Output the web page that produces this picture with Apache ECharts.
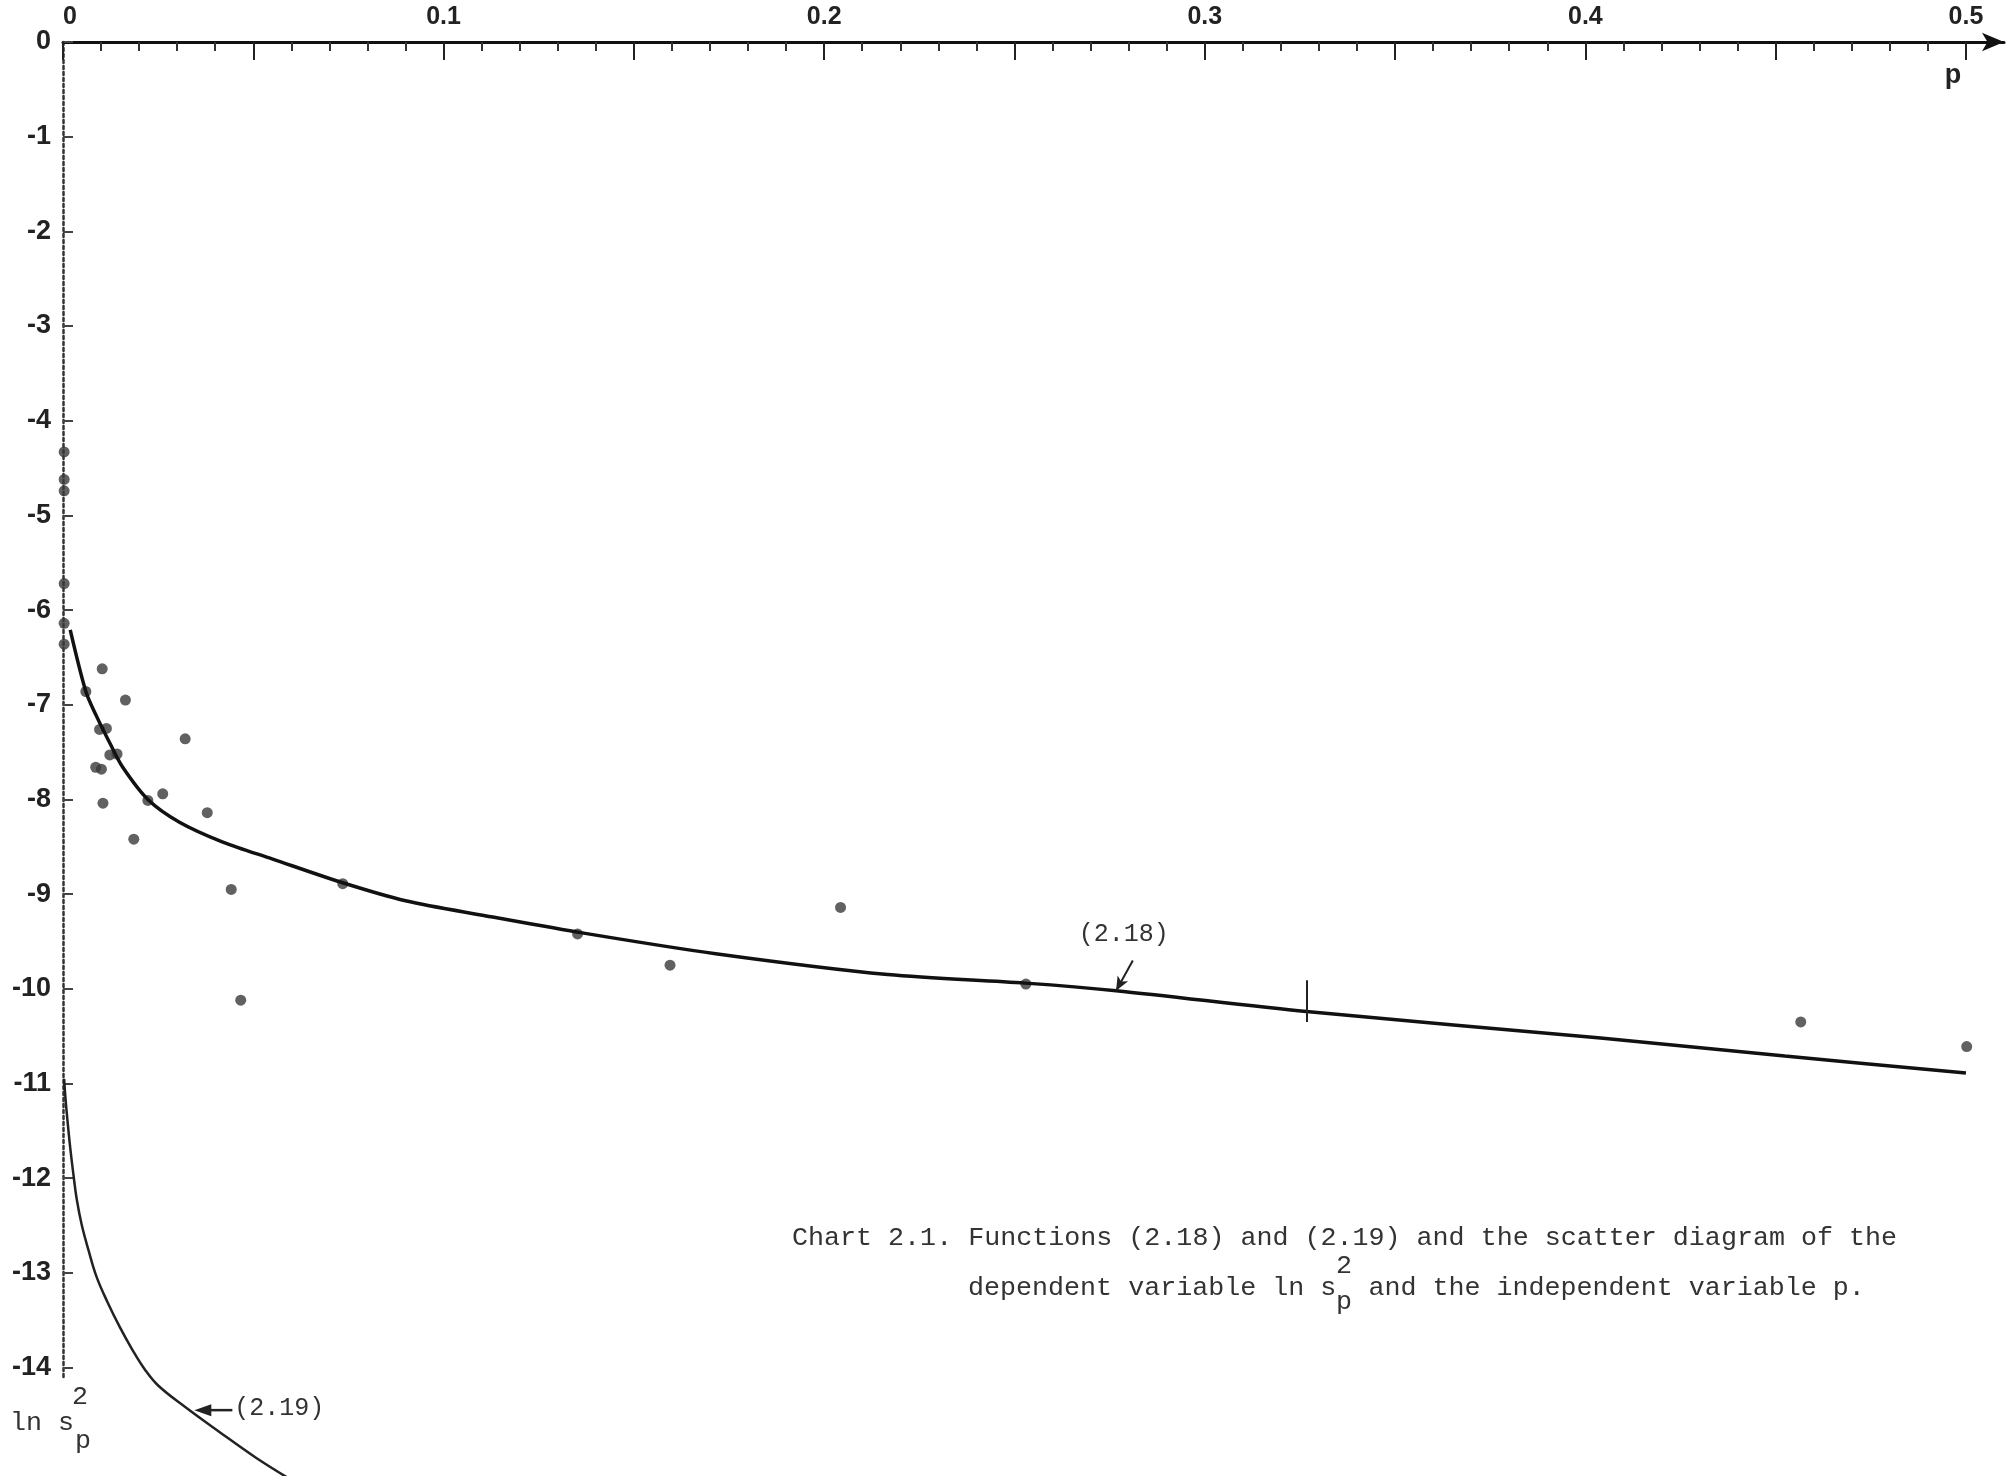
<!DOCTYPE html>
<html>
<head>
<meta charset="utf-8">
<title>Chart 2.1</title>
<script src="https://cdn.jsdelivr.net/npm/echarts@6.0.0/dist/echarts.min.js"></script>
<style>
    html, body { margin: 0; padding: 0; background: #fff; }
    #chart { width: 2013px; height: 1476px; }
</style>
</head>
<body>
<div id="chart"></div>
<script>
// scatter diagram: independent variable p, dependent variable ln s_p^2
const pointP = [0.0003, 0.0003, 0.0003, 0.0003, 0.0003, 0.0003,
    0.0103, 0.0060, 0.0164, 0.0096, 0.0114, 0.0321, 0.0123, 0.0142, 0.0086, 0.0101,
    0.0105, 0.0223, 0.0262, 0.0379, 0.0186, 0.0442, 0.0467, 0.0735, 0.1352, 0.1595,
    0.2043, 0.2530, 0.4566, 0.5002];
const pointLn = [-4.33, -4.62, -4.74, -5.72, -6.14, -6.36,
    -6.62, -6.86, -6.95, -7.26, -7.25, -7.36, -7.53, -7.52, -7.66, -7.68,
    -8.04, -8.01, -7.94, -8.14, -8.42, -8.95, -10.12, -8.89, -9.42, -9.75,
    -9.14, -9.95, -10.35, -10.61];

// function (2.18)
const curve18P = [0.0019, 0.0060, 0.0088, 0.0125, 0.0157, 0.0223, 0.0306, 0.0420, 0.0551,
    0.0735, 0.0900, 0.1112, 0.1350, 0.1715, 0.2167, 0.2528, 0.2767, 0.3267, 0.4040, 0.4524, 0.5000];
const curve18Y = [-6.21, -6.86, -7.12, -7.42, -7.66, -8.00, -8.24, -8.45, -8.63,
    -8.88, -9.07, -9.23, -9.40, -9.63, -9.85, -9.94, -10.02, -10.24, -10.52, -10.71, -10.89];

// function (2.19)
const curve19P = [0.0003, 0.0006, 0.0012, 0.0019, 0.0027, 0.0036, 0.0049, 0.0067, 0.0088,
    0.0117, 0.0149, 0.0182, 0.0215, 0.0250, 0.0322, 0.0411, 0.0506, 0.0593];
const curve19Y = [-10.95, -11.13, -11.40, -11.68, -11.95, -12.22, -12.49, -12.76, -13.04,
    -13.31, -13.57, -13.81, -14.02, -14.19, -14.42, -14.68, -14.95, -15.17];

// axis ticks and labels
const xLabelValues = [0, 0.1, 0.2, 0.3, 0.4, 0.5];
const xMajorTicks = [0, 0.05, 0.1, 0.15, 0.2, 0.25, 0.3, 0.35, 0.4, 0.45, 0.5];
const xMinorTicks = [0.01, 0.02, 0.03, 0.04, 0.06, 0.07, 0.08, 0.09,
    0.11, 0.12, 0.13, 0.14, 0.16, 0.17, 0.18, 0.19,
    0.21, 0.22, 0.23, 0.24, 0.26, 0.27, 0.28, 0.29,
    0.31, 0.32, 0.33, 0.34, 0.36, 0.37, 0.38, 0.39,
    0.41, 0.42, 0.43, 0.44, 0.46, 0.47, 0.48, 0.49];
const yTickValues = [0, -1, -2, -3, -4, -5, -6, -7, -8, -9, -10, -11, -12, -13, -14];

// annotation anchors (data coordinates)
const arrow218 = [[0.2811, -9.70], [0.2767, -10.02]];
const arrow219 = [[0.0445, -14.45], [0.0345, -14.45]];
const mark327 = [[0.3267, -9.91], [0.3267, -10.35]];

const zip = (a, b) => a.map((v, i) => [v, b[i]]);

const chart = echarts.init(document.getElementById('chart'));

chart.setOption({
    animation: false,
    backgroundColor: '#fff',
    grid: { left: 63, right: 9, top: 42, bottom: 99 },
    xAxis: [
        {
            type: 'value', position: 'top', min: 0, max: 0.51,
            axisLine: {
                onZero: false, symbol: ['none', 'arrow'], symbolSize: [14, 22],
                lineStyle: { color: '#111', width: 3 }
            },
            axisTick: { inside: true, length: 18, customValues: xMajorTicks, lineStyle: { color: '#222', width: 2 } },
            axisLabel: {
                customValues: xLabelValues, margin: 12, alignMinLabel: 'left',
                fontFamily: 'Liberation Sans', fontSize: 25, fontWeight: 'bold', color: '#222',
                formatter: v => String(v)
            },
            splitLine: { show: false }
        },
        {
            type: 'value', position: 'top', min: 0, max: 0.51,
            axisLine: { show: false },
            axisTick: { inside: true, length: 9, customValues: xMinorTicks, lineStyle: { color: '#333', width: 2 } },
            axisLabel: { show: false },
            splitLine: { show: false }
        }
    ],
    yAxis: {
        type: 'value', min: -14.1, max: 0,
        axisLine: { onZero: false, lineStyle: { color: '#333', width: 2.5, type: [3, 3] } },
        axisTick: { inside: true, length: 10, customValues: yTickValues, lineStyle: { color: '#444', width: 2 } },
        axisLabel: {
            customValues: yTickValues, margin: 12,
            fontFamily: 'Liberation Sans', fontSize: 27, fontWeight: 'bold', color: '#222'
        },
        splitLine: { show: false }
    },
    series: [
        {
            name: '(2.18)', type: 'line', data: zip(curve18P, curve18Y),
            showSymbol: false, smooth: 0.3, clip: false, silent: true,
            lineStyle: { color: '#111', width: 3.5 },
            markLine: {
                silent: true, label: { show: false },
                lineStyle: { color: '#222', width: 2, type: 'solid' },
                data: [
                    [{ coord: arrow218[0], symbol: 'none' }, { coord: arrow218[1], symbol: 'arrow', symbolSize: [9, 14] }],
                    [{ coord: mark327[0], symbol: 'none' }, { coord: mark327[1], symbol: 'none' }]
                ]
            }
        },
        {
            name: '(2.19)', type: 'line', data: zip(curve19P, curve19Y),
            showSymbol: false, smooth: 0.4, clip: false, silent: true,
            lineStyle: { color: '#222', width: 2.5 }
        },
        {
            name: 'scatter', type: 'scatter', data: zip(pointP, pointLn),
            symbolSize: 11, silent: true,
            itemStyle: { color: '#3a3a3a' }
        }
    ]
});

const px = v => chart.convertToPixel({ gridIndex: 0 }, v);
const s218 = px(arrow218[0]);
const t219 = px(arrow219[0]);
const h219 = px(arrow219[1]);

const mono = 'Liberation Mono';
const txt = (text, x, y, size, align, extra) => ({
    type: 'text', silent: true,
    style: Object.assign({
        text: text, x: x, y: y, fontFamily: mono, fontSize: size, fill: '#333',
        align: align, verticalAlign: 'middle'
    }, extra || {})
});

chart.setOption({
    graphic: [
        txt('(2.18)', s218[0] - 9, s218[1] - 26, 25, 'center'),
        // arrow pointing at (2.19), lies below the axis range so drawn here
        {
            type: 'line', silent: true,
            shape: { x1: t219[0], y1: t219[1], x2: h219[0] + 12, y2: h219[1] },
            style: { stroke: '#222', lineWidth: 2.5 }
        },
        {
            type: 'polygon', silent: true,
            shape: { points: [[h219[0], h219[1]], [h219[0] + 17, h219[1] - 6], [h219[0] + 17, h219[1] + 6]] },
            style: { fill: '#222' }
        },
        txt('(2.19)', t219[0] + 2, t219[1] - 2, 25, 'left'),
        txt('p', 1953, 76, 27, 'center', { fontFamily: 'Liberation Sans', fontWeight: 'bold', fill: '#222' }),
        // y-axis name: ln s_p^2
        txt('ln s', 10, 1423, 26.7, 'left'),
        txt('2', 80, 1397, 26.7, 'center'),
        txt('p', 83, 1441, 26.7, 'center'),
        // caption
        txt('Chart 2.1. Functions (2.18) and (2.19) and the scatter diagram of the', 792, 1238, 26.7, 'left'),
        txt('dependent variable ln s  and the independent variable p.', 968, 1288, 26.7, 'left'),
        txt('2', 1344, 1266, 26.7, 'center'),
        txt('p', 1344, 1302, 26.7, 'center')
    ]
});
</script>
</body>
</html>
